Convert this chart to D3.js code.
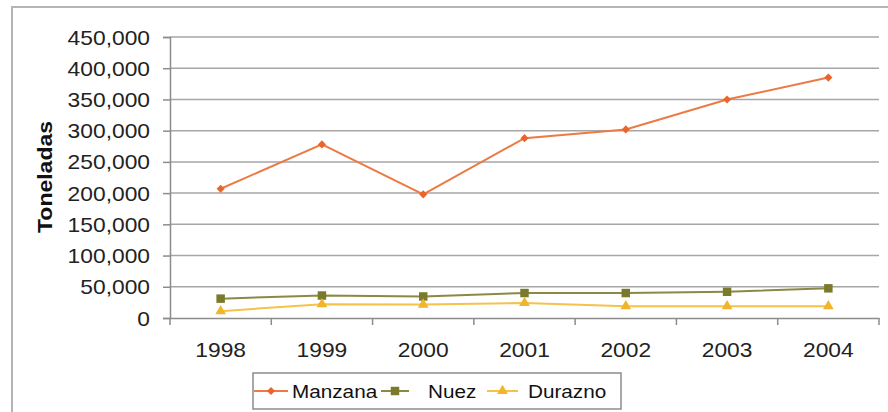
<!DOCTYPE html>
<html>
<head>
<meta charset="utf-8">
<script src="https://cdn.jsdelivr.net/npm/d3@7"></script>
<style>
  body { margin: 0; background: #fff; }
  svg { display: block; font-family: "Liberation Sans", Arial, sans-serif; }
</style>
</head>
<body>
<svg width="888" height="412"></svg>
<script>
const years = ["1998", "1999", "2000", "2001", "2002", "2003", "2004"];
const manzana = [207000, 278000, 198000, 288000, 302000, 350000, 385000];
const nuez = [31000, 36000, 34500, 40000, 40000, 42000, 47500];
const durazno = [11000, 22000, 21500, 24000, 19000, 19000, 19000];
const yTicks = [0, 50000, 100000, 150000, 200000, 250000, 300000, 350000, 400000, 450000];

const series = [
  { name: "Manzana", values: manzana, color: "#e8662e", line: "#ec7a45", symbol: d3.symbolDiamond2, size: 42 },
  { name: "Nuez", values: nuez, color: "#7b7a2c", line: "#8a8a44", symbol: d3.symbolSquare, size: 72 },
  { name: "Durazno", values: durazno, color: "#f2b52a", line: "#f5c24a", symbol: d3.symbolTriangle, size: 50 }
];

const svg = d3.select("svg");
const stretch = 1.14;
const plotL = 170, plotR = 879, plotT = 37, plotB = 318;

// outer frame
svg.append("rect")
  .attr("x", 12).attr("y", 7).attr("width", 900).attr("height", 430)
  .attr("fill", "none").attr("stroke", "#b4b4b4").attr("stroke-width", 2);

const x = d3.scaleBand().domain(years).range([plotL, plotR]);
const y = d3.scaleLinear().domain([0, 450000]).range([plotB, plotT]);

// gridlines
svg.append("g")
  .selectAll("line")
  .data(yTicks.slice(1))
  .enter().append("line")
  .attr("x1", plotL).attr("x2", plotR)
  .attr("y1", d => y(d)).attr("y2", d => y(d))
  .attr("stroke", "#a6a6a6").attr("stroke-width", 1.5);

// y axis
const yAxis = svg.append("g")
  .attr("transform", `translate(${plotL},0)`)
  .call(d3.axisLeft(y).tickValues(yTicks).tickSize(7).tickPadding(0).tickFormat(d3.format(",")));
yAxis.select(".domain").attr("stroke", "#8c8c8c").attr("stroke-width", 1.5);
yAxis.selectAll(".tick line").attr("stroke", "#8c8c8c").attr("stroke-width", 1.5);
yAxis.selectAll(".tick text")
  .attr("x", null).attr("dy", null)
  .attr("transform", `translate(-20,7) scale(${stretch},1)`)
  .attr("font-size", 20).attr("fill", "#222")
  .attr("font-family", "Liberation Sans, Arial, sans-serif");

// x axis
const xAxis = svg.append("g")
  .attr("transform", `translate(0,${plotB})`)
  .call(d3.axisBottom(x).tickSize(0).tickPadding(0));
xAxis.select(".domain").attr("stroke", "#8c8c8c").attr("stroke-width", 1.5);
xAxis.selectAll(".tick text")
  .attr("y", null).attr("dy", null)
  .attr("transform", `translate(0,39) scale(${stretch},1)`)
  .attr("font-size", 20).attr("fill", "#222")
  .attr("font-family", "Liberation Sans, Arial, sans-serif");
// category separator ticks
svg.append("g")
  .selectAll("line")
  .data(years.concat(["end"]))
  .enter().append("line")
  .attr("x1", (d, i) => plotL + i * x.step()).attr("x2", (d, i) => plotL + i * x.step())
  .attr("y1", plotB).attr("y2", plotB + 7)
  .attr("stroke", "#8c8c8c").attr("stroke-width", 1.5);

// y label
svg.append("text")
  .attr("transform", "translate(52,177) rotate(-90)")
  .attr("text-anchor", "middle")
  .attr("font-size", 20).attr("font-weight", "bold").attr("fill", "#111")
  .attr("textLength", 112).attr("lengthAdjust", "spacingAndGlyphs")
  .text("Toneladas");

// lines and markers
const line = d3.line()
  .x((d, i) => x(years[i]) + x.bandwidth() / 2)
  .y(d => y(d));

series.forEach(s => {
  svg.append("path")
    .datum(s.values)
    .attr("d", line)
    .attr("fill", "none")
    .attr("stroke", s.line)
    .attr("stroke-width", 2);
  svg.append("g")
    .selectAll("path")
    .data(s.values)
    .enter().append("path")
    .attr("d", d3.symbol().type(s.symbol).size(s.size))
    .attr("transform", (d, i) => `translate(${x(years[i]) + x.bandwidth() / 2},${y(d)})`)
    .attr("fill", s.color);
});

// legend
const legend = svg.append("g");
legend.append("rect")
  .attr("x", 253).attr("y", 373).attr("width", 368).attr("height", 36)
  .attr("fill", "#fff").attr("stroke", "#8c8c8c").attr("stroke-width", 1.5);

const legendPos = [
  { lx: 254, tx: 292 },
  { lx: 381, tx: 428 },
  { lx: 487, tx: 528 }
];
const sampleW = [34, 28, 31];

series.forEach((s, i) => {
  const p = legendPos[i];
  const cy = 391;
  legend.append("line")
    .attr("x1", p.lx).attr("x2", p.lx + sampleW[i])
    .attr("y1", cy).attr("y2", cy)
    .attr("stroke", s.line).attr("stroke-width", 2);
  legend.append("path")
    .attr("d", d3.symbol().type(s.symbol).size(s.size))
    .attr("transform", `translate(${p.lx + sampleW[i] / 2},${cy})`)
    .attr("fill", s.color);
  legend.append("text")
    .attr("transform", `translate(${p.tx},${cy + 7}) scale(1.12,1)`)
    .attr("font-size", 18.5).attr("fill", "#111")
    .text(s.name);
});
</script>
</body>
</html>
